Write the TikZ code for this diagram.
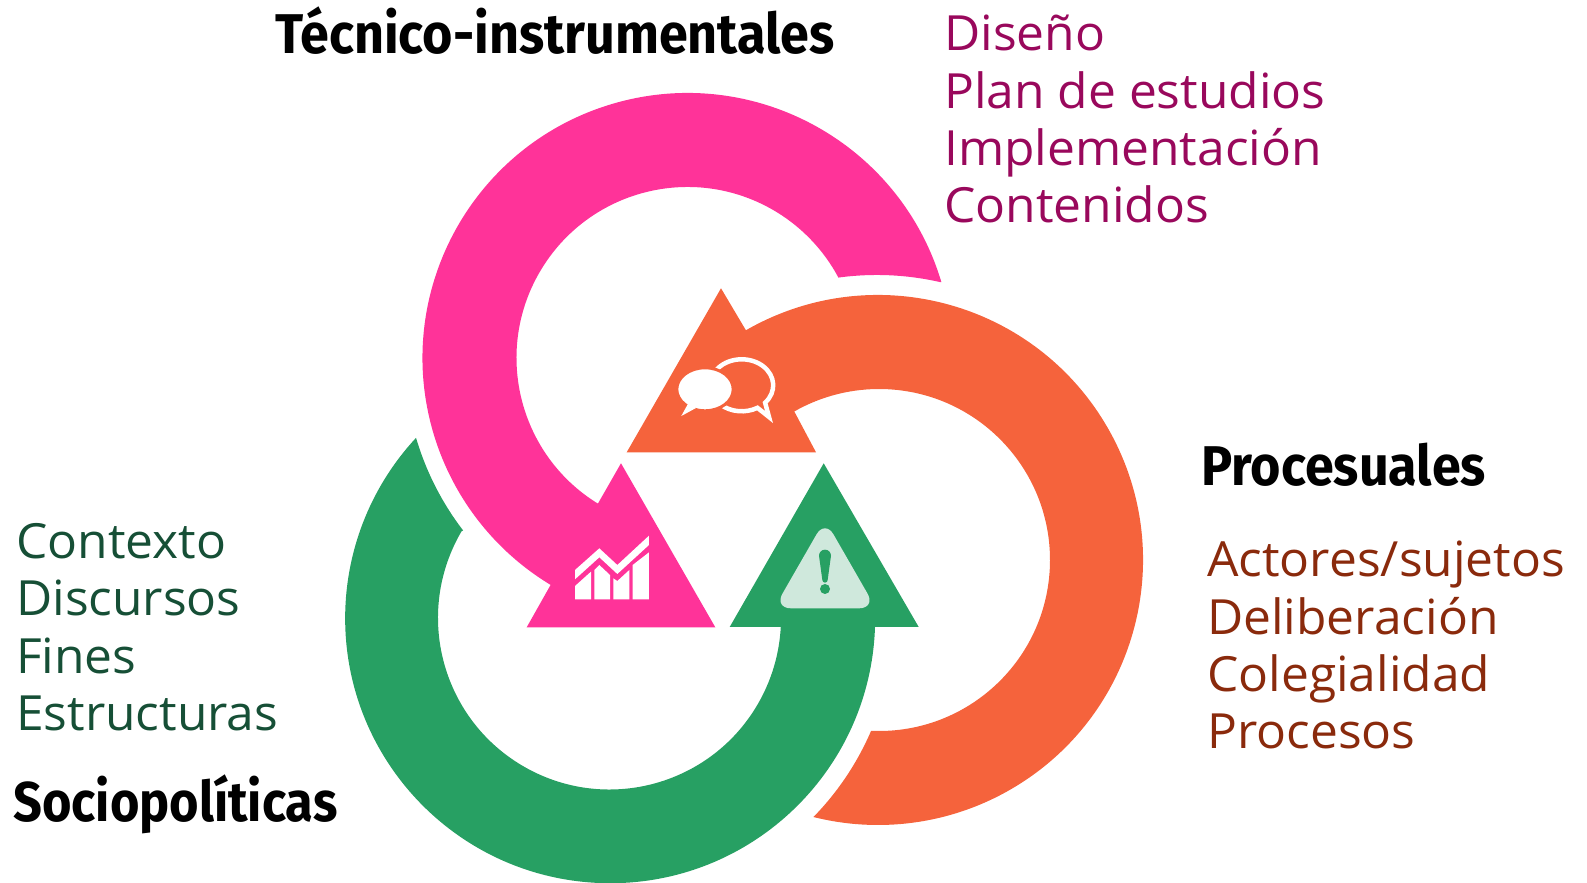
\documentclass[tikz,border=0pt]{standalone}
\usepackage{fontspec}
\usepackage{xcolor}
\usetikzlibrary{calc}
\setmainfont[FakeStretch=1.025]{Open Sans}
\newfontfamily\titlefont[FakeStretch=0.93]{Fira Sans}
\definecolor{ringpink}{HTML}{FF3399}
\definecolor{ringorange}{HTML}{F5633C}
\definecolor{ringgreen}{HTML}{27A063}
\definecolor{softgreen}{HTML}{CFE8DC}
\definecolor{listpink}{HTML}{99085C}
\definecolor{listorange}{HTML}{8A2A0C}
\definecolor{listgreen}{HTML}{164F36}
\tikzset{
    titletext/.style={anchor=base west, inner sep=0pt, font=\titlefont\bfseries\fontsize{56}{56}\selectfont},
    listtext/.style={anchor=north west, inner sep=0pt, align=left, font=\fontsize{48.5}{57.4}\selectfont}
}

\begin{document}
\begin{tikzpicture}[x=1pt,y=1pt]
    \useasboundingbox (0,0) rectangle (1587,883);

    % Ring centres
    \coordinate (pinkc) at (687.5,525);
    \coordinate (orangec) at (878,323);
    \coordinate (orangeh) at (879,323);
    \coordinate (greenc) at (610,265);
    \coordinate (greenh) at (609.5,265);

    % Pink ring ending in its triangle
    \fill[ringpink] ($(pinkc)+(16.66:265)$) arc[start angle=16.66, end angle=238.9, radius=265]
        -- (526.7,255.7) -- (715.3,255.7) -- (621,419.7) -- ($(pinkc)+(238.4:171)$)
        arc[start angle=238.4, end angle=28.05, radius=171]
        arc[start angle=97.75, end angle=77.1, radius=285] -- cycle;

    % Orange ring ending in its triangle
    \fill[ringorange] ($(orangec)+(119.9:265)$) arc[start angle=119.9, end angle=-104.1, radius=265]
        arc[start angle=-44.3, end angle=-23.3, radius=284]
        -- ($(orangeh)+(-91.8:171)$) arc[start angle=-91.8, end angle=119.7, radius=171]
        -- (816,430.7) -- (626.7,430.7) -- (721,594.7) -- cycle;

    % Green ring ending in its triangle
    \fill[ringgreen] (823.7,419.7) -- (918.7,256) -- (875,256)
        arc[start angle=-1.9, end angle=-222.9, radius=265]
        arc[start angle=196.4, end angle=217.5, radius=284]
        -- ($(greenh)+(149.6:171.5)$) arc[start angle=149.6, end angle=357, radius=171.5]
        -- (729.7,256) -- cycle;

    % Chat icon
    \filldraw[ringorange, draw=white, line width=4.5pt, miter limit=10]
        (741.7,497.7) ++(-42:31.5 and 26) arc[start angle=-42, end angle=300, x radius=31.5, y radius=26]
        -- (769,466) -- cycle;
    \filldraw[white, draw=ringorange, line width=3pt] (705,493.7) ellipse[x radius=28.2, y radius=21.5];
    \fill[white] (696,475) -- (681.3,467) -- (689,481) -- cycle;

    % Chart icon
    \begin{scope}[shift={(560,363)}, x=0.3333pt, y=-0.3333pt]
        \fill[white] (45,150) -- (118,85) -- (172,135) -- (267,47) -- (267,75) -- (172,162) -- (118,112) -- (45,178) -- cycle;
        \fill[white] (45,238) -- (45,198) -- (93,155) -- (93,238) -- cycle;
        \fill[white] (103,238) -- (103,150) -- (118,135) -- (150,165) -- (150,238) -- cycle;
        \fill[white] (160,238) -- (160,175) -- (172,183) -- (208,150) -- (208,238) -- cycle;
        \fill[white] (218,238) -- (218,135) -- (267,97) -- (267,238) -- cycle;
    \end{scope}

    % Warning icon
    \begin{scope}[shift={(770,368)}, x=0.3333pt, y=-0.3333pt]
        \fill[softgreen, rounded corners=17pt] (165,14) -- (318,280) -- (12,280) -- cycle;
        \fill[ringgreen] (147,122) arc[start angle=180, end angle=360, radius=18] -- (173,195) arc[start angle=0, end angle=180, radius=8] -- cycle;
        \fill[ringgreen] (165,222) circle[radius=15];
    \end{scope}

    % Titles
    \node[titletext] (tecnico) at (275,829) {Técnico-instrumentales};
    \node[titletext] (procesuales) at (1201,397) {Procesuales};
    \node[titletext, xscale=0.97] (socio) at (13,61) {Sociopolíticas};

    % Lists
    \node[listtext, text=listpink] (listtecnico) at (944,868) {Diseño\\Plan de estudios\\Implementación\\Contenidos};
    \node[listtext, text=listorange] (listprocesuales) at (1207,342) {Actores/sujetos\\Deliberación\\Colegialidad\\Procesos};
    \node[listtext, text=listgreen] (listsocio) at (16,360) {Contexto\\Discursos\\Fines\\Estructuras};
\end{tikzpicture}
\end{document}
